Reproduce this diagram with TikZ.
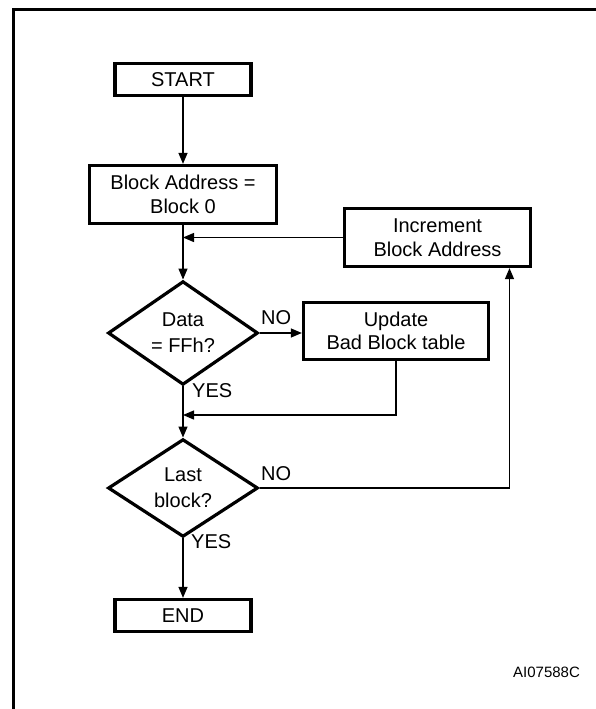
\documentclass[tikz,border=0pt]{standalone}
\usepackage{fontspec}
\setmainfont{Liberation Sans}
\usetikzlibrary{shapes.geometric,arrows.meta}
\begin{document}
\begin{tikzpicture}[x=1pt,y=-1pt,
  box/.style={draw,line width=3.3pt,rectangle,inner sep=0pt,align=center,font=\fontsize{20}{23.5}\selectfont},
  dec/.style={draw,line width=3.2pt,diamond,inner sep=0pt,align=center,font=\fontsize{20}{26}\selectfont},
  conn/.style={line width=1.3pt},
  arr/.style={conn,-{Triangle[length=11pt,width=9pt]}},
  lbl/.style={inner sep=0pt,anchor=base west,font=\fontsize{20}{23.5}\selectfont}]
\useasboundingbox (0,0) rectangle (595,709);
\draw[line width=3pt] (597,9.5) -- (13,9.5) -- (13,711);

\node[box,minimum width=136pt,minimum height=32pt] (start) at (183,79.5) {START};
\node[box,minimum width=187pt,minimum height=58pt] (blk) at (183,194.5) {Block Address =\\Block 0};
\node[box,minimum width=186pt,minimum height=58pt] (inc) at (437.5,237.5) {Increment\\Block Address};
\node[dec,minimum width=150pt,minimum height=82pt] (d1) at (183,333) {Data\\= FFh?};
\node[box,minimum width=185pt,minimum height=57pt] (upd) at (396,331) {Update\\Bad Block table};
\node[dec,minimum width=150pt,minimum height=82pt] (d2) at (183,488) {Last\\block?};
\node[box,minimum width=136pt,minimum height=32pt] (end) at (183,615.5) {END};
\coordinate (j2) at (183,415);

\draw[arr] (start) -- (blk);
\draw[arr] (blk) -- (d1);
\draw[arr] (inc.west) -- (inc.west -| blk.south);
\draw[arr] (d1.east) -- (d1.east -| upd.west);
\draw[arr] (d1) -- (d2);
\draw[arr] (upd.south) |- (j2);
\draw[arr] (d2.east) -| ([xshift=72pt]inc.south);
\draw[arr] (d2) -- (end);

\node[lbl] (no1) at (261,324) {NO};
\node[lbl] (yes1) at (192,397) {YES};
\node[lbl] (no2) at (261,480) {NO};
\node[lbl] (yes2) at (191,548) {YES};
\node[inner sep=0pt,anchor=base west,font=\fontsize{15}{18}\selectfont] (id) at (513,677) {AI07588C};
\end{tikzpicture}
\end{document}
